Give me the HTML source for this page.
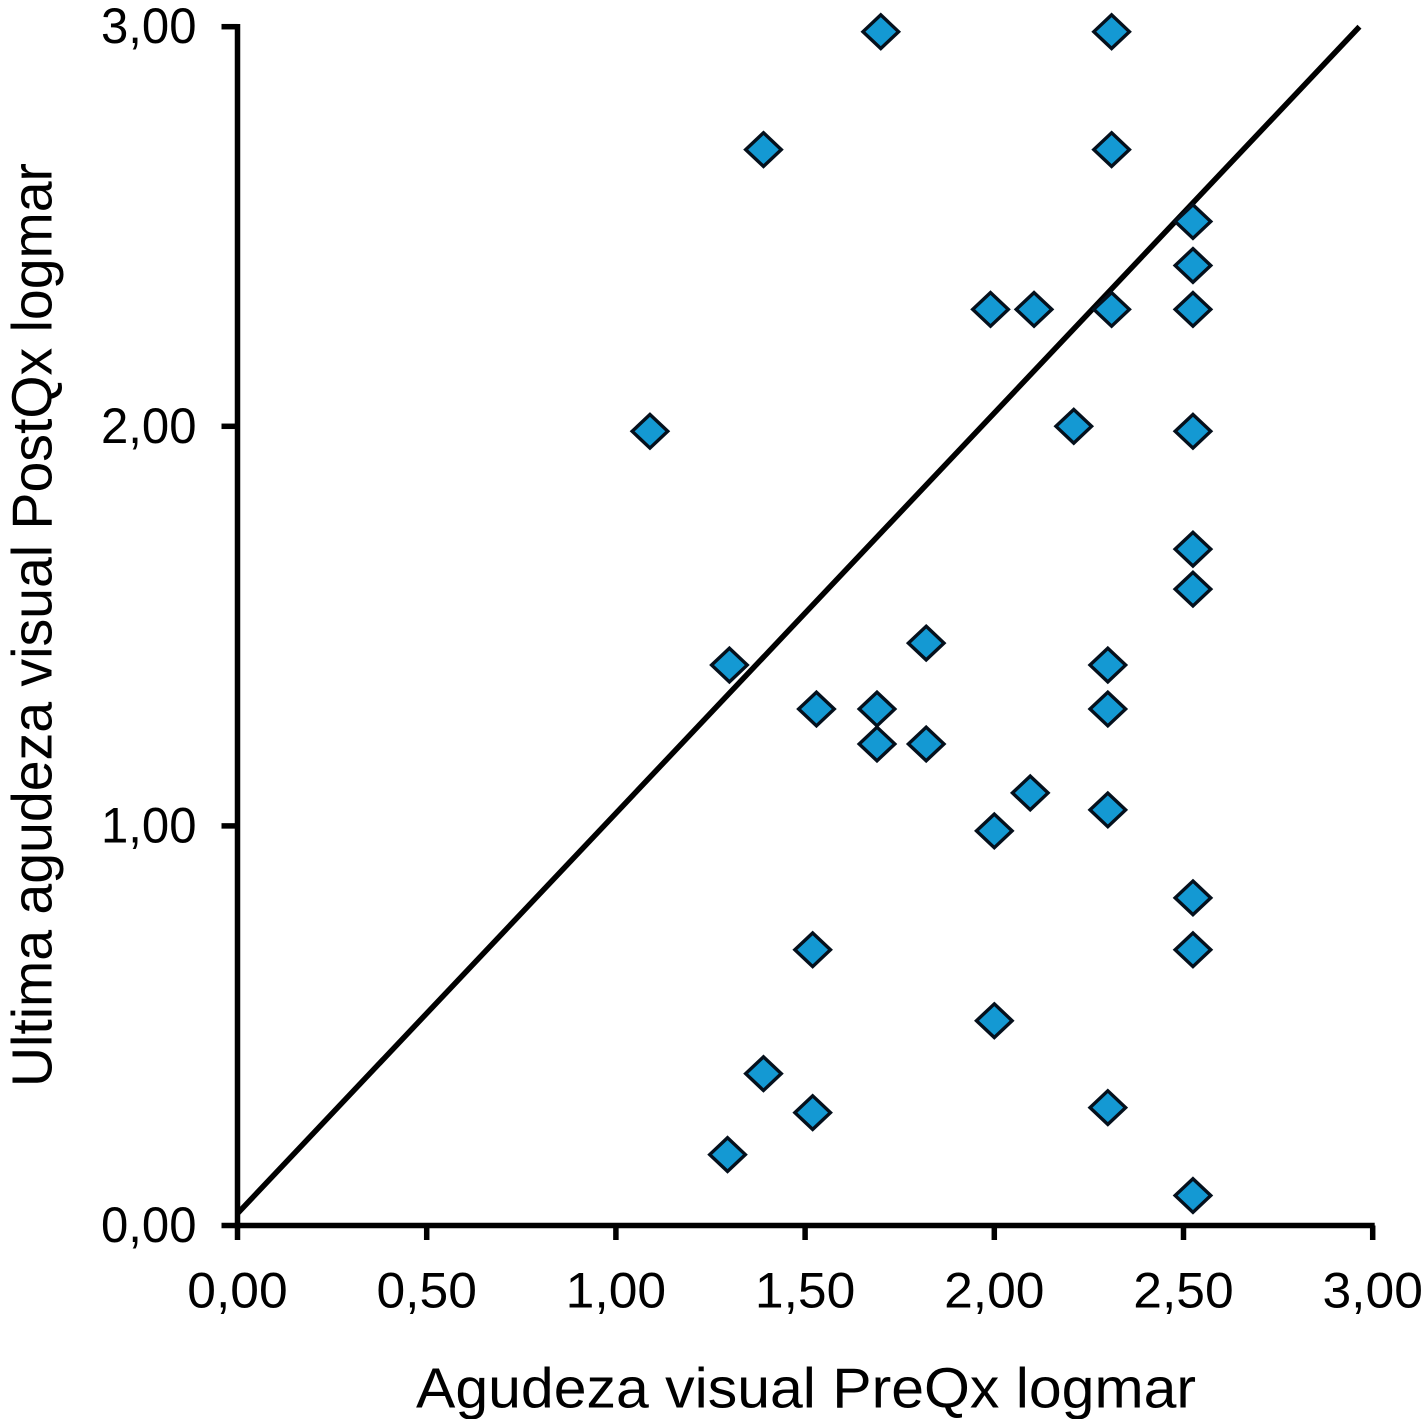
<!DOCTYPE html>
<html lang="es">
<head>
<meta charset="utf-8">
<title>Agudeza visual PreQx vs PostQx</title>
<style>
html,body{margin:0;padding:0;background:#fff;}
svg{display:block;}
text{font-family:"Liberation Sans",Arial,sans-serif;fill:#000;}
</style>
</head>
<body>
<svg id="chart" xmlns="http://www.w3.org/2000/svg" width="1423" height="1419" viewBox="0 0 1423 1419"></svg>
<script>
const xTicks = [0, 0.5, 1, 1.5, 2, 2.5, 3];
const yTicks = [0, 1, 2, 3];
const xTickLabels = ['0,00', '0,50', '1,00', '1,50', '2,00', '2,50', '3,00'];
const yTickLabels = ['0,00', '1,00', '2,00', '3,00'];
const xValues = [1.70, 2.31, 1.39, 2.31, 2.525, 2.525, 2.525, 1.99, 2.105, 2.31, 1.09, 2.21, 2.525, 2.525, 2.525, 1.82, 1.30, 2.30, 1.53, 1.69, 2.30, 1.69, 1.82, 2.095, 2.30, 2.00, 2.525, 1.52, 2.525, 2.00, 1.39, 1.52, 2.30, 1.295, 2.525];
const yValues = [2.9875, 2.9875, 2.6925, 2.6925, 2.5125, 2.4025, 2.2925, 2.2925, 2.2925, 2.2925, 1.9875, 2.00, 1.9875, 1.6925, 1.5925, 1.4575, 1.4025, 1.4025, 1.2925, 1.2925, 1.2925, 1.205, 1.205, 1.0825, 1.04, 0.9875, 0.82, 0.69, 0.69, 0.5125, 0.38, 0.2825, 0.295, 0.1775, 0.075];
const lineX = [0, 2.965];
const lineY = [0.03, 3.0];

const svg = document.getElementById('chart');
const NS = 'http://www.w3.org/2000/svg';
const x0 = 237.5, xPerUnit = 378.4;
const y0 = 1225.5, yPerUnit = 399.6;
function sx(v) { return x0 + v * xPerUnit; }
function sy(v) { return y0 - v * yPerUnit; }
function make(tag, attrs) {
  const el = document.createElementNS(NS, tag);
  for (const k in attrs) el.setAttribute(k, attrs[k]);
  return el;
}
function axisLine(x1, y1, x2, y2) {
  return make('line', { x1: x1, y1: y1, x2: x2, y2: y2, stroke: '#000', 'stroke-width': 5.5 });
}

const trend = make('line', { x1: sx(lineX[0]), y1: sy(lineY[0]), x2: sx(lineX[1]), y2: sy(lineY[1]), stroke: '#000', 'stroke-width': 5.5 });


svg.appendChild(trend);

const yAxis = axisLine(sx(0), sy(3) - 2.75, sx(0), sy(0) + 2.75);


svg.appendChild(yAxis);

const xAxis = axisLine(sx(0), sy(0), sx(3) + 2, sy(0));


svg.appendChild(xAxis);

xTicks.forEach(function (v, i) {
  const tick = axisLine(sx(v), sy(0), sx(v), sy(0) + 14.5);
  
  
  svg.appendChild(tick);
  const label = make('text', { x: sx(v), y: 1307.5, 'text-anchor': 'middle', 'font-size': 50, textLength: 100.4, lengthAdjust: 'spacingAndGlyphs' });
  label.textContent = xTickLabels[i];
  
  
  svg.appendChild(label);
});

yTicks.forEach(function (v, i) {
  const tick = axisLine(sx(0) - 16, sy(v), sx(0), sy(v));
  
  
  svg.appendChild(tick);
  const label = make('text', { x: 196.5, y: sy(v) + 16.5, 'text-anchor': 'end', 'font-size': 50, textLength: 95.5, lengthAdjust: 'spacingAndGlyphs' });
  label.textContent = yTickLabels[i];
  
  
  svg.appendChild(label);
});

xValues.forEach(function (v, i) {
  const cx = sx(v), cy = sy(yValues[i]);
  const pts = [[cx, cy - 16.8], [cx + 17.8, cy], [cx, cy + 16.8], [cx - 17.8, cy]].join(' ');
  const m = make('polygon', { points: pts, fill: '#1499D3', stroke: '#05101c', 'stroke-width': 3.4, 'stroke-linejoin': 'miter' });
  
  
  svg.appendChild(m);
});

const xTitle = make('text', { x: 806, y: 1407.5, 'text-anchor': 'middle', 'font-size': 57, textLength: 780, lengthAdjust: 'spacingAndGlyphs' });
xTitle.textContent = 'Agudeza visual PreQx logmar';


svg.appendChild(xTitle);

const yTitle = make('text', { transform: 'translate(51.5 625) rotate(-90)', 'text-anchor': 'middle', 'font-size': 57, textLength: 924, lengthAdjust: 'spacingAndGlyphs' });
yTitle.textContent = 'Ultima agudeza visual PostQx logmar';


svg.appendChild(yTitle);
</script>
</body>
</html>
